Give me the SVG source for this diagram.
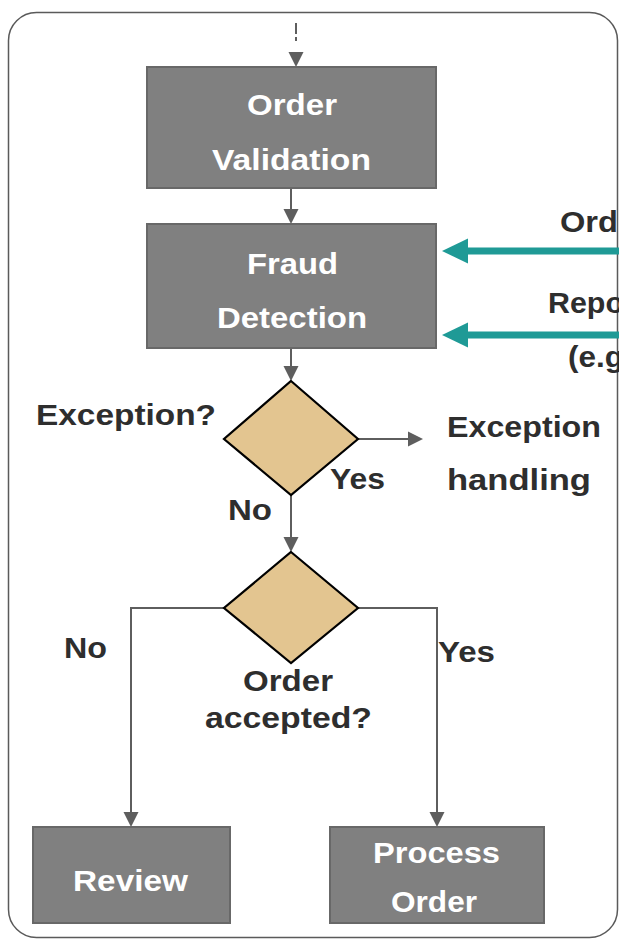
<svg xmlns="http://www.w3.org/2000/svg" width="619" height="940" viewBox="0 0 619 940">
<defs>
<style>
.frame{fill:#fff;stroke:#5a5a5a;stroke-width:1.5}
.box{fill:#808080;stroke:#686868;stroke-width:2}
.dia{fill:#e3c590;stroke:#000;stroke-width:2.2;stroke-linejoin:miter}
.bt{font-family:"Liberation Sans",Arial,sans-serif;font-weight:bold;font-size:30px;fill:#fff}
.lt{font-family:"Liberation Sans",Arial,sans-serif;font-weight:bold;font-size:29px;fill:#2e2e2e}
.con{fill:none;stroke:#5e5e5e;stroke-width:2}
.teal{fill:none;stroke:#1f9a96;stroke-width:7}
</style>
<marker id="ah" markerUnits="userSpaceOnUse" markerWidth="16" markerHeight="16" refX="0" refY="8" orient="auto" viewBox="0 0 16 16">
<path d="M0,0.5 L15,8 L0,15.5 z" fill="#5e5e5e"/>
</marker>
<marker id="tah" markerUnits="userSpaceOnUse" markerWidth="26" markerHeight="26" refX="0" refY="13" orient="auto" viewBox="0 0 26 26">
<path d="M0,0.5 L26,13 L0,25.5 z" fill="#1f9a96"/>
</marker>
</defs>
<rect class="frame" x="8.5" y="12.5" width="609" height="925" rx="28" ry="28"/>
<g id="connectors">
<line class="con" x1="296" y1="23" x2="296" y2="52" stroke-dasharray="11 3 4 30" marker-end="url(#ah)"/>
<line class="con" x1="291" y1="188" x2="291" y2="209" marker-end="url(#ah)"/>
<line class="con" x1="291" y1="348" x2="291" y2="366" marker-end="url(#ah)"/>
<line class="con" x1="358" y1="439" x2="408" y2="439" marker-end="url(#ah)"/>
<line class="con" x1="291" y1="495" x2="291" y2="537" marker-end="url(#ah)"/>
<path class="con" d="M224,608 H131 V812" marker-end="url(#ah)"/>
<path class="con" d="M358,608 H437 V812" marker-end="url(#ah)"/>
<line class="teal" x1="620" y1="251" x2="468" y2="251" marker-end="url(#tah)"/>
<line class="teal" x1="620" y1="335" x2="468" y2="335" marker-end="url(#tah)"/>
</g>
<g id="order-validation">
<rect class="box" x="147" y="67" width="289" height="121"/>
<text class="bt" x="247" y="115" textLength="90" lengthAdjust="spacingAndGlyphs">Order</text>
<text class="bt" x="212" y="170" textLength="159" lengthAdjust="spacingAndGlyphs">Validation</text>
</g>
<g id="fraud-detection">
<rect class="box" x="147" y="224" width="289" height="124"/>
<text class="bt" x="247" y="274" textLength="91" lengthAdjust="spacingAndGlyphs">Fraud</text>
<text class="bt" x="217" y="328" textLength="150" lengthAdjust="spacingAndGlyphs">Detection</text>
</g>
<g id="inputs">
<text class="lt" x="560" y="232" textLength="58" lengthAdjust="spacingAndGlyphs">Ord</text>
<text class="lt" x="548" y="313" textLength="76" lengthAdjust="spacingAndGlyphs">Repo</text>
<text class="lt" x="568" y="367" textLength="56" lengthAdjust="spacingAndGlyphs">(e.g</text>
</g>
<g id="exception-decision">
<polygon class="dia" points="291,381 358,439 291,495 224,439"/>
<text class="lt" x="36" y="425" textLength="180" lengthAdjust="spacingAndGlyphs">Exception?</text>
<text class="lt" x="330" y="489" textLength="55" lengthAdjust="spacingAndGlyphs">Yes</text>
<text class="lt" x="228" y="520" textLength="44" lengthAdjust="spacingAndGlyphs">No</text>
</g>
<g id="exception-handling">
<text class="lt" x="447" y="437" textLength="154" lengthAdjust="spacingAndGlyphs">Exception</text>
<text class="lt" x="447" y="490" textLength="144" lengthAdjust="spacingAndGlyphs">handling</text>
</g>
<g id="accepted-decision">
<polygon class="dia" points="291,552 358,608 291,663 224,608"/>
<text class="lt" x="243" y="691" textLength="90" lengthAdjust="spacingAndGlyphs">Order</text>
<text class="lt" x="205" y="728" textLength="167" lengthAdjust="spacingAndGlyphs">accepted?</text>
<text class="lt" x="64" y="658" textLength="43" lengthAdjust="spacingAndGlyphs">No</text>
<text class="lt" x="438" y="662" textLength="57" lengthAdjust="spacingAndGlyphs">Yes</text>
</g>
<g id="review">
<rect class="box" x="33" y="827" width="197" height="96"/>
<text class="bt" x="73" y="891" textLength="115" lengthAdjust="spacingAndGlyphs">Review</text>
</g>
<g id="process-order">
<rect class="box" x="330" y="827" width="214" height="96"/>
<text class="bt" x="373" y="863" textLength="127" lengthAdjust="spacingAndGlyphs">Process</text>
<text class="bt" x="391" y="912" textLength="86" lengthAdjust="spacingAndGlyphs">Order</text>
</g>
</svg>
